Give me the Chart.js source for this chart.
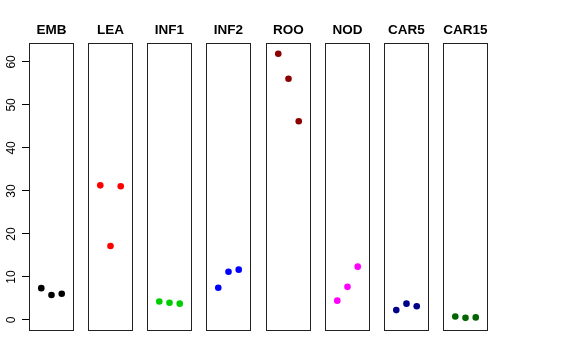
<!DOCTYPE html>
<html>
<head>
<meta charset="utf-8">
<script src="https://cdn.jsdelivr.net/npm/chart.js@4"></script>
<style>
  body { margin: 0; background: #fff; }
  #wrap { position: relative; width: 576px; height: 360px; overflow: hidden; }
  #wrap canvas { position: absolute; top: 0; }
</style>
</head>
<body>
<div id="wrap"></div>
<script>
// panel names and the three values in each
const tissues = ['EMB', 'LEA', 'INF1', 'INF2', 'ROO', 'NOD', 'CAR5', 'CAR15'];
const emb   = [7.4, 5.8, 6.1];
const lea   = [31.3, 17.2, 31.1];
const inf1  = [4.3, 4.0, 3.8];
const inf2  = [7.5, 11.2, 11.7];
const roo   = [61.9, 56.1, 46.2];
const nod   = [4.5, 7.7, 12.4];
const car5  = [2.3, 3.8, 3.2];
const car15 = [0.8, 0.5, 0.6];
const replicates = [1, 2, 3];
const yTicks = [0, 10, 20, 30, 40, 50, 60];

const series = [emb, lea, inf1, inf2, roo, nod, car5, car15];
const colors = ['#000000', '#ff0000', '#00cd00', '#0000ff', '#8b0000', '#ff00ff', '#00008b', '#006400'];

// draws the R-style box around each panel
const boxPlugin = {
  id: 'panelBox',
  afterDraw(chart) {
    const a = chart.chartArea;
    const ctx = chart.ctx;
    ctx.save();
    ctx.strokeStyle = '#222';
    ctx.lineWidth = 1;
    ctx.strokeRect(a.left + 0.5, a.top + 0.5, a.right - a.left - 1, a.bottom - a.top - 1);
    ctx.restore();
  }
};

const wrap = document.getElementById('wrap');
const panelW = 45;

tissues.forEach((name, i) => {
  const first = i === 0;
  const panelLeft = Math.round(29 + i * 59.15);
  const canvas = document.createElement('canvas');
  const left = first ? 0 : panelLeft - 7;
  const width = first ? panelLeft + panelW + 7 : panelW + 14;
  canvas.width = width;
  canvas.height = 340;
  canvas.style.left = left + 'px';
  canvas.style.width = width + 'px';
  canvas.style.height = '340px';
  wrap.appendChild(canvas);

  const yScale = {
    min: -2.56,
    max: 64.4,
    display: first,
    afterBuildTicks: s => { s.ticks = yTicks.map(v => ({ value: v })); },
    grid: { drawOnChartArea: false, tickLength: 7, color: '#000', tickColor: '#000' },
    border: { display: false },
    ticks: {
      color: '#000',
      font: { family: 'Liberation Sans, Arial, sans-serif', size: 12 },
      minRotation: 90,
      maxRotation: 90,
      crossAlign: 'center',
      padding: 4
    }
  };
  if (first) {
    yScale.afterFit = s => { s.width = 29; s.paddingTop = 0; s.paddingBottom = 0; };
  }

  new Chart(canvas.getContext('2d'), {
    type: 'scatter',
    data: {
      datasets: [{
        data: series[i].map((v, j) => ({ x: replicates[j], y: v })),
        backgroundColor: colors[i],
        borderColor: colors[i],
        pointRadius: 3.3,
        pointHoverRadius: 3.3,
        borderWidth: 0
      }]
    },
    options: {
      responsive: false,
      animation: false,
      events: [],
      layout: { padding: { left: first ? 0 : 7, right: 7, top: 0, bottom: 9 } },
      plugins: {
        legend: { display: false },
        tooltip: { enabled: false },
        title: {
          display: true,
          text: name,
          fullSize: false,
          color: '#000',
          font: { family: 'Liberation Sans, Arial, sans-serif', size: 13.5, weight: 'bold' },
          padding: { top: 22.5, bottom: 4.3 }
        }
      },
      scales: {
        x: { type: 'linear', min: -0.2, max: 4.2, display: false },
        y: yScale
      }
    },
    plugins: [boxPlugin]
  });
});
</script>
</body>
</html>
